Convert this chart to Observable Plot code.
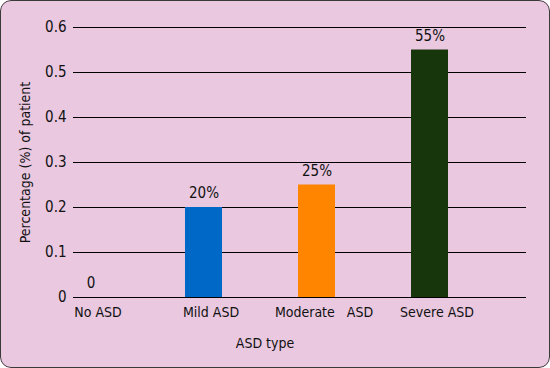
<!DOCTYPE html>
<html>
<head>
<meta charset="utf-8">
<script src="https://cdn.jsdelivr.net/npm/d3@7"></script>
<script src="https://cdn.jsdelivr.net/npm/@observablehq/plot@0.6"></script>
<style>
  html, body { margin: 0; padding: 0; background: #ffffff; }
  #wrap { position: relative; width: 550px; height: 368px; overflow: hidden; border-radius: 11px; background: #e9c8e0; }
  #wrap svg { position: absolute; left: 0; top: 0; background: transparent; }
  #frame { position: absolute; left: 0; top: 0; width: 550px; height: 368px; box-sizing: border-box; border: 1.5px solid #3a3a3a; border-radius: 11px; pointer-events: none; }
</style>
</head>
<body>
<div id="wrap"><div id="frame"></div></div>
<script>
const categories = ["No ASD", "Mild ASD", "Moderate\u00a0\u00a0\u00a0ASD", "Severe ASD"];
const values = [0, 0.20, 0.25, 0.55];
const valueLabels = ["0", "20%", "25%", "55%"];
const colors = ["#e9c8e0", "#0068c6", "#ff8400", "#18360b"];
const yTicks = [0, 0.1, 0.2, 0.3, 0.4, 0.5, 0.6];

const data = categories.map((c, i) => ({cat: c, value: values[i], label: valueLabels[i], color: colors[i]}));
const font = "'Liberation Sans Narrow', 'Arial Narrow', 'DejaVu Sans Condensed', sans-serif";

const chart = Plot.plot({
  width: 550,
  height: 368,
  marginLeft: 73,
  marginRight: 24,
  marginTop: 27,
  marginBottom: 71,
  style: {fontFamily: font, fontSize: "14px", color: "#111", background: "transparent"},
  x: {domain: categories, range: [71, 450], paddingInner: 0.67, paddingOuter: 0, label: null},
  y: {domain: [0, 0.6], label: null},
  marks: [
    Plot.ruleY(yTicks, {stroke: "#000", strokeWidth: 1.1}),
    Plot.barY(data, {x: "cat", y: "value", fill: "color"}),
    Plot.text(data, {x: "cat", y: "value", text: "label", dy: -14, fontSize: 15, fill: "#111"}),
    Plot.axisY({ticks: yTicks, tickFormat: d => d === 0 ? "0" : d3.format(".1f")(d), tickSize: 0, tickPadding: 7, fontSize: 15, label: null}),
    Plot.axisX({tickSize: 0, tickPadding: 10, fontSize: 14, label: null, dx: 7}),
    Plot.text(["ASD type"], {frameAnchor: "bottom", dy: 50, dx: -35, fontSize: 14, fill: "#111"}),
    Plot.text(["Percentage (%) of patient"], {frameAnchor: "left", textAnchor: "middle", rotate: -90, dx: -48, dy: 0, fontSize: 14, fill: "#111"})
  ]
});
document.getElementById("wrap").insertBefore(chart, document.getElementById("frame"));
</script>
</body>
</html>
